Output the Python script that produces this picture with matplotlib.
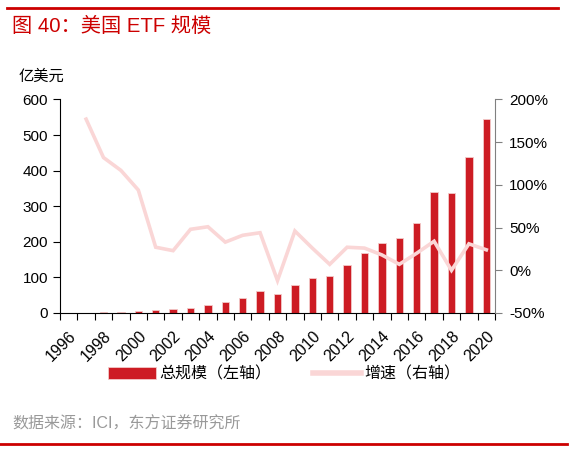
import numpy as np
import matplotlib
matplotlib.use('Agg')
import matplotlib.pyplot as plt
from matplotlib.lines import Line2D

plt.rcParams['font.family'] = ['Liberation Sans', 'Noto Sans CJK SC']
plt.rcParams['axes.unicode_minus'] = False

years = list(range(1996, 2021))
# 总规模（亿美元）
size = [0.2, 0.7, 1.6, 3.4, 6.6, 8.3, 10.2, 15.1, 22.8, 30.1, 42.3, 60.8, 53.1,
        77.7, 99.2, 104.8, 133.7, 167.5, 197.5, 210.1, 252.4, 340.1, 337.1, 439.6, 544.9]
# 增速（%）
growth = [np.nan, 177, 132, 117, 94, 27, 23, 48, 51, 33, 41, 44, -12,
          46, 26, 7, 27, 26, 18, 7, 20, 34, 0, 31, 24]

red = '#CD1C24'
pink = '#FAD6D6'
W, H = 573, 453

fig = plt.figure(figsize=(W / 100, H / 100), dpi=100)
ax = fig.add_axes([60 / W, 1 - 313 / H, 435 / W, 213.5 / H])
x = np.arange(len(years))

ax.bar(x, size, width=0.42, color=red, edgecolor='#F3C9C9', linewidth=0.6,
       label='总规模（左轴）', zorder=2)
ax.set_xlim(-0.5, len(years) - 0.5)
ax.set_ylim(0, 600)
ax.set_yticks(range(0, 601, 100))
ax.tick_params(axis='y', labelsize=11, length=5, direction='out', color='black')

ax.set_xticks(np.arange(-0.5, len(years), 1))
ax.set_xticklabels([])
ax.tick_params(axis='x', which='major', length=5, color='black')
ax.set_xticks(x[::2], minor=True)
ax.set_xticklabels([str(y) for y in years[::2]], minor=True, rotation=45,
                   ha='right', va='top', rotation_mode='anchor', fontsize=11.5)
ax.tick_params(axis='x', which='minor', length=0, pad=11)

for s in ['top', 'right']:
    ax.spines[s].set_visible(False)
ax.spines['left'].set_color('black')
ax.spines['bottom'].set_color('black')

ax2 = ax.twinx()
ax2.plot(x, growth, color=pink, linewidth=2.6, label='增速（右轴）',
         solid_joinstyle='miter')
ax2.set_ylim(-50, 200)
ax2.set_yticks(range(-50, 201, 50))
ax2.set_yticklabels([f'{v}%' for v in range(-50, 201, 50)])
ax2.tick_params(axis='y', labelsize=11, length=5, color='#808080', pad=5)
for s in ['top', 'left', 'bottom']:
    ax2.spines[s].set_visible(False)
ax2.spines['right'].set_color('#808080')

h1, l1 = ax.get_legend_handles_labels()
h2, l2 = ax2.get_legend_handles_labels()
leg_line = Line2D([0], [0], color=pink, linewidth=4)
fig.legend(h1 + [leg_line], l1 + l2, loc='center', ncol=2,
           bbox_to_anchor=(284 / W, 1 - 374 / H), frameon=False, fontsize=11.5,
           handlelength=3.0, handleheight=0.7, handletextpad=0.2,
           columnspacing=2.6)

fig.text(12 / W, 1 - 26 / H, '图 40：美国 ETF 规模', color='#CC0000',
         fontsize=14.6, ha='left', va='center')
fig.text(19 / W, 1 - 77 / H, '亿美元', fontsize=11, ha='left', va='center')
fig.text(12 / W, 1 - 424 / H, '数据来源：ICI，东方证券研究所', color='#999999',
         fontsize=11.5, ha='left', va='center')

fig.add_artist(Line2D([7 / W, 558 / W], [1 - 7.5 / H, 1 - 7.5 / H],
                      color='#CC0000', linewidth=2))
fig.add_artist(Line2D([0, 567 / W], [1 - 444 / H, 1 - 444 / H],
                      color='#CC0000', linewidth=2))

fig.savefig('out.png', dpi=100)
